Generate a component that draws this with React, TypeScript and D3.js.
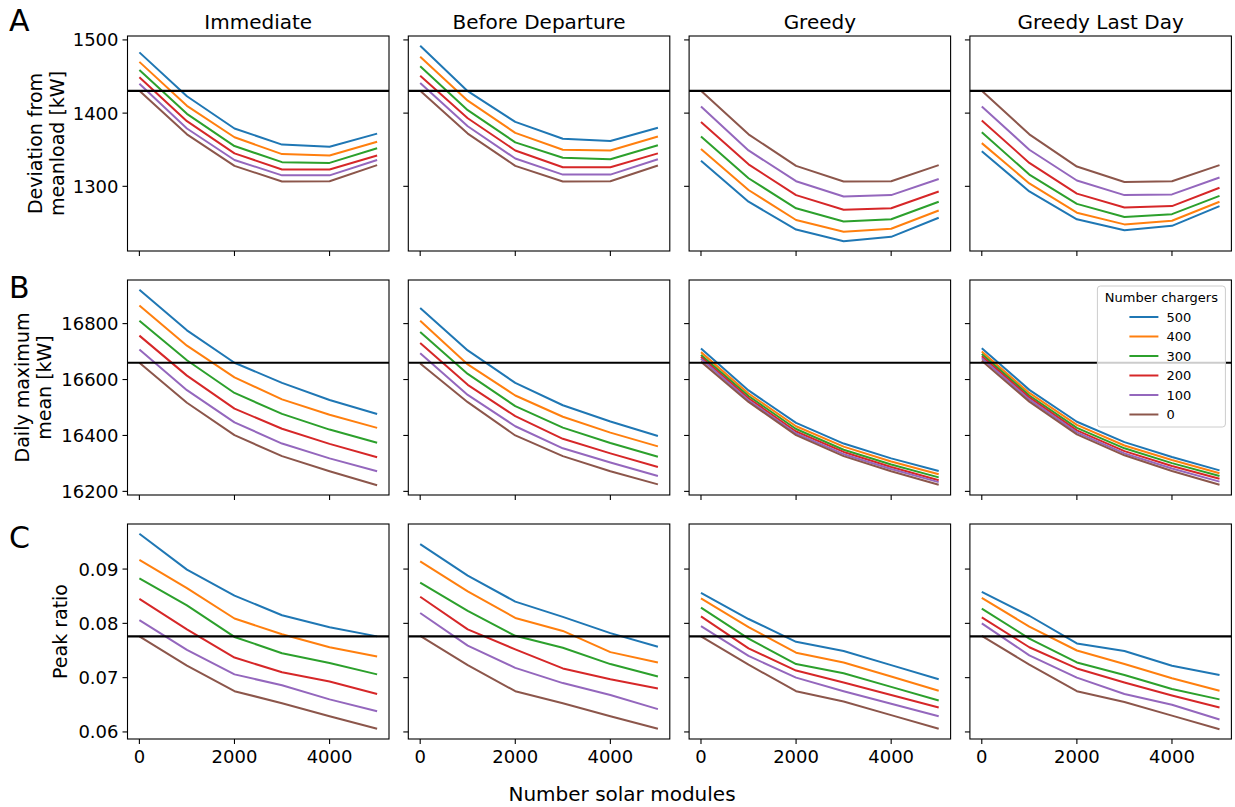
import React from "react";
import * as d3 from "d3";

const SOLAR = [0, 1000, 2000, 3000, 4000, 5000];
const CHARGERS = [500, 400, 300, 200, 100, 0];
const COLORS = ["#1f77b4", "#ff7f0e", "#2ca02c", "#d62728", "#9467bd", "#8c564b"];
const STRATEGIES = ["Immediate", "Before Departure", "Greedy", "Greedy Last Day"];
const X_TICKS = [0, 2000, 4000];

// A: deviation from meanload [kW], one row per charger count (500 .. 0)
const DEV_REF = 1430.5;
const DEV_IMMEDIATE = [
  [1483, 1423, 1379, 1357, 1354, 1372],
  [1470, 1410, 1367, 1344, 1342, 1361],
  [1459, 1399, 1355, 1333, 1332, 1352],
  [1449, 1389, 1345, 1323, 1323, 1342],
  [1440, 1379, 1336, 1315, 1315, 1336],
  [1430.5, 1371, 1328, 1306.5, 1307, 1329],
];
const DEV_BEFORE = [
  [1492, 1430, 1388, 1365, 1362, 1380],
  [1477, 1417, 1373, 1350, 1349, 1368],
  [1464, 1404, 1360, 1339, 1337, 1356],
  [1451, 1393, 1349, 1326, 1326, 1345],
  [1441, 1382, 1338, 1316, 1316, 1337],
  [1430.5, 1372, 1328, 1306.5, 1307, 1328.5],
];
const DEV_GREEDY = [
  [1335, 1279, 1241, 1225, 1231, 1257],
  [1351, 1295, 1254, 1238, 1242, 1267],
  [1368, 1311, 1270, 1252, 1255, 1279],
  [1388, 1330, 1288, 1268, 1270, 1293],
  [1409, 1349, 1307, 1286, 1288, 1310],
  [1430.5, 1371, 1328, 1306.5, 1307, 1329],
];
const DEV_GREEDY_LAST = [
  [1348, 1293, 1255, 1240, 1246, 1273],
  [1359, 1304, 1264, 1248, 1253, 1279],
  [1374, 1316, 1276, 1258, 1262, 1287],
  [1390, 1332, 1290, 1271, 1273, 1298],
  [1409, 1350, 1308, 1288, 1289, 1312],
  [1430.5, 1371, 1327, 1306, 1307, 1329],
];

// B: daily maximum mean [kW]
const MAX_REF = 16660;
const MAX_IMMEDIATE = [
  [16921, 16776, 16660, 16588, 16527, 16477],
  [16865, 16721, 16608, 16529, 16474, 16427],
  [16810, 16669, 16552, 16477, 16421, 16374],
  [16757, 16614, 16496, 16424, 16370, 16322],
  [16707, 16562, 16447, 16371, 16318, 16272],
  [16660, 16517, 16401, 16326, 16272, 16222],
];
const MAX_BEFORE = [
  [16856, 16704, 16588, 16508, 16450, 16398],
  [16810, 16654, 16543, 16467, 16410, 16361],
  [16770, 16620, 16505, 16428, 16373, 16324],
  [16731, 16581, 16469, 16388, 16336, 16287],
  [16694, 16545, 16433, 16354, 16303, 16255],
  [16657, 16519, 16400, 16326, 16272, 16225],
];
const MAX_GREEDY = [
  [16711, 16561, 16445, 16371, 16318, 16273],
  [16698, 16550, 16433, 16360, 16307, 16261],
  [16688, 16541, 16423, 16349, 16296, 16250],
  [16681, 16533, 16414, 16341, 16287, 16240],
  [16674, 16526, 16407, 16333, 16280, 16233],
  [16664, 16520, 16401, 16326, 16272, 16224],
];
const MAX_GREEDY_LAST = [
  [16712, 16563, 16449, 16376, 16323, 16275],
  [16700, 16552, 16438, 16364, 16312, 16265],
  [16691, 16543, 16427, 16354, 16301, 16255],
  [16683, 16536, 16418, 16344, 16291, 16245],
  [16676, 16529, 16411, 16336, 16282, 16235],
  [16667, 16521, 16404, 16329, 16273, 16224],
];

// C: peak ratio
const PEAK_REF = 0.0776;
const PEAK_IMMEDIATE = [
  [0.0965, 0.0899, 0.0851, 0.0815, 0.0793, 0.0776],
  [0.0917, 0.0865, 0.0809, 0.078, 0.0756, 0.0739],
  [0.0883, 0.0833, 0.0775, 0.0745, 0.0727, 0.0706],
  [0.0845, 0.0789, 0.0737, 0.071, 0.0693, 0.067],
  [0.0806, 0.0751, 0.0706, 0.0686, 0.066, 0.0638],
  [0.0776, 0.0722, 0.0675, 0.0653, 0.0629, 0.0606],
];
const PEAK_BEFORE = [
  [0.0946, 0.0888, 0.084, 0.0812, 0.0782, 0.0757],
  [0.0914, 0.0859, 0.081, 0.0786, 0.0747, 0.0728],
  [0.0875, 0.0823, 0.0777, 0.0755, 0.0725, 0.0702],
  [0.0849, 0.0789, 0.0752, 0.0717, 0.0697, 0.068],
  [0.0819, 0.0759, 0.0718, 0.069, 0.0668, 0.0642],
  [0.0777, 0.0723, 0.0675, 0.0653, 0.0629, 0.0606],
];
const PEAK_GREEDY = [
  [0.0856, 0.0808, 0.0766, 0.0749, 0.0723, 0.0697],
  [0.0846, 0.0793, 0.0746, 0.0728, 0.0702, 0.0676],
  [0.0829, 0.0772, 0.0725, 0.0708, 0.0683, 0.0658],
  [0.0813, 0.0754, 0.0713, 0.0691, 0.0668, 0.0645],
  [0.0795, 0.074, 0.07, 0.0675, 0.0652, 0.0629],
  [0.0776, 0.0724, 0.0675, 0.0656, 0.0631, 0.0606],
];
const PEAK_GREEDY_LAST = [
  [0.0858, 0.0814, 0.0763, 0.0749, 0.0722, 0.0705],
  [0.0847, 0.0794, 0.075, 0.0725, 0.0699, 0.0676],
  [0.0827, 0.0772, 0.0728, 0.0705, 0.0679, 0.066],
  [0.0811, 0.0756, 0.0717, 0.0691, 0.0667, 0.0645],
  [0.08, 0.0741, 0.07, 0.067, 0.065, 0.0623],
  [0.0777, 0.0724, 0.0675, 0.0655, 0.063, 0.0605],
];

const ROWS = [
  {
    letter: "A",
    label: ["Deviation from", "meanload [kW]"],
    labelX: [35, 57],
    ticks: [1300, 1400, 1500],
    fmt: (d: number) => String(d),
    ref: DEV_REF,
    panels: [DEV_IMMEDIATE, DEV_BEFORE, DEV_GREEDY, DEV_GREEDY_LAST],
  },
  {
    letter: "B",
    label: ["Daily maximum", "mean [kW]"],
    labelX: [22, 44],
    ticks: [16200, 16400, 16600, 16800],
    fmt: (d: number) => String(d),
    ref: MAX_REF,
    panels: [MAX_IMMEDIATE, MAX_BEFORE, MAX_GREEDY, MAX_GREEDY_LAST],
  },
  {
    letter: "C",
    label: ["Peak ratio"],
    labelX: [60],
    ticks: [0.06, 0.07, 0.08, 0.09],
    fmt: (d: number) => d.toFixed(2),
    ref: PEAK_REF,
    panels: [PEAK_IMMEDIATE, PEAK_BEFORE, PEAK_GREEDY, PEAK_GREEDY_LAST],
  },
];

const W = 1235;
const H = 807;
const LEFT0 = 127.5;
const PW = 261.5;
const COL_STEP = 280.8;
const TOP0 = 36;
const PH = 215;
const ROW_STEP = 244;
const FONT = "DejaVu Sans, sans-serif";

export default function App() {
  const x0 = d3.scaleLinear().domain([-250, 5250]).range([0, PW]);

  return (
    <svg
      width={W}
      height={H}
      style={{ position: "absolute", left: 0, top: 0, background: "#fff" }}
      fontFamily={FONT}
    >
      {STRATEGIES.map((s, c) => (
        <text key={s} x={LEFT0 + c * COL_STEP + PW / 2} y={29} fontSize={20} textAnchor="middle">
          {s}
        </text>
      ))}

      {ROWS.map((row, r) => {
        const top = TOP0 + r * ROW_STEP;
        const all = row.panels.flat(2);
        const [mn, mx] = d3.extent(all) as [number, number];
        const pad = (mx - mn) * 0.05;
        const y = d3.scaleLinear().domain([mn - pad, mx + pad]).range([PH, 0]);
        const cy = top + PH / 2;
        return (
          <g key={row.letter}>
            <text x={9} y={top + (r === 0 ? -5 : r === 1 ? 18 : 24)} fontSize={30}>
              {row.letter}
            </text>
            {row.label.map((l, i) => (
              <text
                key={l}
                transform={`translate(${row.labelX[i]},${cy}) rotate(-90)`}
                fontSize={19}
                textAnchor="middle"
                dominantBaseline="central"
              >
                {l}
              </text>
            ))}
            {row.panels.map((panel, c) => {
              const left = LEFT0 + c * COL_STEP;
              const line = d3
                .line<number>()
                .x((_, i) => x0(SOLAR[i]))
                .y((d) => y(d));
              return (
                <g key={c} transform={`translate(${left},${top})`}>
                  {panel.map((series, k) => (
                    <path
                      key={k}
                      d={line(series) || ""}
                      fill="none"
                      stroke={COLORS[k]}
                      strokeWidth={2}
                      strokeLinejoin="round"
                    />
                  ))}
                  <line x1={0} x2={PW} y1={y(row.ref)} y2={y(row.ref)} stroke="#000" strokeWidth={2.2} />
                  <rect x={0} y={0} width={PW} height={PH} fill="none" stroke="#000" strokeWidth={1.1} />
                  {row.ticks.map((t) => (
                    <g key={t} transform={`translate(0,${y(t)})`}>
                      <line x1={-5} x2={0} stroke="#000" strokeWidth={1.1} />
                      {c === 0 && (
                        <text x={-9} fontSize={18} textAnchor="end" dominantBaseline="central">
                          {row.fmt(t)}
                        </text>
                      )}
                    </g>
                  ))}
                  {X_TICKS.map((t) => (
                    <g key={t} transform={`translate(${x0(t)},${PH})`}>
                      <line y1={0} y2={5} stroke="#000" strokeWidth={1.1} />
                      {r === 2 && (
                        <text y={24} fontSize={18} textAnchor="middle">
                          {t}
                        </text>
                      )}
                    </g>
                  ))}
                  {r === 1 && c === 3 && (
                    <g transform={`translate(${PW - 134},6)`}>
                      <rect
                        x={0}
                        y={0}
                        width={128}
                        height={141}
                        rx={3}
                        fill="#fff"
                        fillOpacity={0.8}
                        stroke="#ccc"
                        strokeWidth={1}
                      />
                      <text x={64} y={16} fontSize={13} textAnchor="middle">
                        Number chargers
                      </text>
                      {CHARGERS.map((n, k) => (
                        <g key={n} transform={`translate(0,${31 + k * 19.5})`}>
                          <line x1={32} x2={61} stroke={COLORS[k]} strokeWidth={2} />
                          <text x={69} fontSize={13} dominantBaseline="central">
                            {n}
                          </text>
                        </g>
                      ))}
                    </g>
                  )}
                </g>
              );
            })}
          </g>
        );
      })}

      <text x={622} y={801} fontSize={20} textAnchor="middle">
        Number solar modules
      </text>
    </svg>
  );
}
